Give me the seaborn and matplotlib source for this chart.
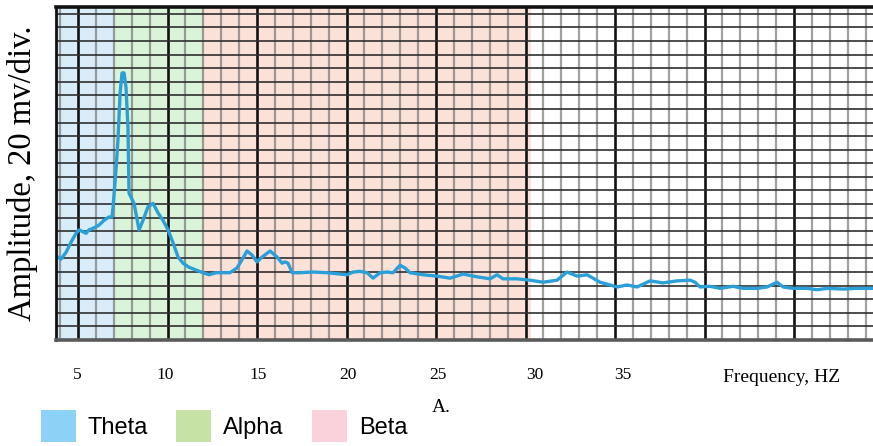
import matplotlib
matplotlib.use("Agg")
import numpy as np
import pandas as pd
import seaborn as sns
import matplotlib.pyplot as plt
from matplotlib.patches import Patch

# ---------------- data ----------------
freq_hz = [3.88, 4.05, 4.33, 4.61, 4.89, 5.06, 5.45, 5.61, 5.89, 6.17,
           6.45, 6.73, 6.90, 6.96, 7.12, 7.23, 7.35, 7.46, 7.57, 7.68,
           7.79, 7.85, 8.13, 8.41, 8.63, 8.91, 9.19, 9.47, 9.75, 10.03,
           10.31, 10.59, 10.87, 11.20, 11.59, 11.98, 12.32, 12.71, 12.93, 13.49,
           13.88, 14.16, 14.44, 14.72, 15.00, 15.28, 15.73, 16.12, 16.40, 16.56,
           16.73, 16.96, 17.40, 18.13, 18.91, 19.64, 20.03, 20.36, 20.75, 21.15,
           21.48, 21.87, 22.26, 22.60, 22.99, 23.27, 23.55, 24.27, 25.06, 25.78,
           26.51, 27.29, 28.02, 28.41, 28.74, 29.53, 30.25, 30.98, 31.76, 32.32,
           32.88, 33.44, 33.77, 34.16, 34.72, 35.11, 35.67, 36.23, 36.96, 37.68,
           38.46, 39.19, 39.47, 39.75, 40.31, 40.87, 41.59, 42.15, 42.93, 43.49,
           44.05, 44.39, 44.94, 45.73, 46.28, 46.84, 47.74, 48.52, 49.41]
amp_mv = [122, 119, 129, 144, 157, 162, 157, 162, 165, 169,
          176, 181, 181, 196, 250, 294, 363, 393, 393, 372,
          313, 216, 201, 162, 176, 196, 201, 187, 176, 162,
          143, 122, 113, 107, 103, 99, 96, 99, 99, 99,
          106, 118, 131, 125, 115, 122, 131, 122, 113, 115,
          113, 99, 99, 100, 99, 97, 96, 100, 101, 99,
          91, 99, 100, 99, 110, 106, 99, 96, 94, 91,
          97, 93, 90, 96, 90, 90, 88, 85, 88, 100,
          94, 96, 91, 85, 81, 78, 81, 78, 87, 84,
          87, 88, 85, 78, 79, 76, 79, 76, 76, 78,
          85, 78, 76, 76, 74, 76, 75, 76, 76]

band_names = ["Theta", "Alpha", "Beta"]
band_lo = [3.77, 7.0, 12.0]
band_hi = [7.0, 12.0, 30.3]
band_fill = ["#d9ecf9", "#d9f4d9", "#fbe2d9"]
band_legend = ["#8dd2f6", "#c6e2a4", "#f9d2dc"]

tick_pos = [4.94, 9.86, 15.06, 20.08, 25.11, 30.53, 35.45]
tick_labels = ["5", "10", "15", "20", "25", "30", "35"]

df = pd.DataFrame({"freq": freq_hz, "amp": amp_mv})

# ---------------- figure ----------------
sns.set_style("white")
plt.rcParams["font.family"] = ["Liberation Serif", "DejaVu Serif"]
plt.rcParams["text.color"] = "black"
plt.rcParams["axes.labelcolor"] = "black"
plt.rcParams["xtick.color"] = "black"

fig = plt.figure(figsize=(8.73, 4.46), dpi=100)
ax = fig.add_axes([56 / 873, 1 - 340 / 446, 817 / 873, 333 / 446])

xmin, xmax = 3.77, 49.41
ymin, ymax = 0, 490

# frequency bands
for lo, hi, c in zip(band_lo, band_hi, band_fill):
    ax.axvspan(lo, hi, color=c, lw=0, zorder=0)

# graph-paper grid
for f in np.arange(4, 50):
    if f % 5 == 0:
        ax.axvline(f, color="#111111", lw=1.9, zorder=1)
    else:
        ax.axvline(f, color="#6e6e6e", lw=1.6, alpha=0.65, zorder=1)
for a in np.arange(20, 490, 20):
    ax.axhline(a, color="#2e2e2e", lw=1.4, alpha=0.85, zorder=1)

sns.lineplot(data=df, x="freq", y="amp", ax=ax, color="#2a9fd8", lw=2.4,
             estimator=None, sort=False, zorder=4)

ax.set_xlim(xmin, xmax)
ax.set_ylim(ymin, ymax)
ax.set_yticks([])
ax.set_xticks(tick_pos, tick_labels)
ax.tick_params(axis="x", length=0, pad=19.5, labelsize=12.5, labelcolor="black")

ax.set_xlabel("Frequency, HZ", fontsize=14, color="black")
ax.xaxis.set_label_coords((782 - 56) / 817, (340 - 377) / 333)
ax.xaxis.label.set_va("center")

ax.set_ylabel("Amplitude, 20 mv/div.", fontsize=23.5, color="black")
ax.yaxis.set_label_coords((38 - 56) / 817, 0.5)

for side in ["top", "left", "bottom", "right"]:
    ax.spines[side].set_zorder(5)
ax.spines["top"].set_linewidth(2.6)
ax.spines["top"].set_color("#111111")
ax.spines["left"].set_linewidth(2.0)
ax.spines["left"].set_color("#111111")
ax.spines["bottom"].set_linewidth(2.6)
ax.spines["bottom"].set_color("#5a5a5a")
ax.spines["right"].set_visible(False)

fig.text(441 / 873, 1 - 412 / 446, "A.", ha="center", va="baseline",
         fontsize=14, color="black")

handles = [Patch(facecolor=c, edgecolor="none", label=n)
           for n, c in zip(band_names, band_legend)]
leg = fig.legend(handles=handles, loc="upper left",
                 bbox_to_anchor=(41 / 873, 1 - 410 / 446), ncol=3, frameon=False,
                 borderpad=0, borderaxespad=0, handlelength=1.48, handleheight=1.7,
                 handletextpad=0.5, columnspacing=1.2,
                 prop={"family": ["Liberation Sans", "DejaVu Sans"], "size": 17})
for t in leg.get_texts():
    t.set_color("black")

fig.savefig("out.png", dpi=100)
